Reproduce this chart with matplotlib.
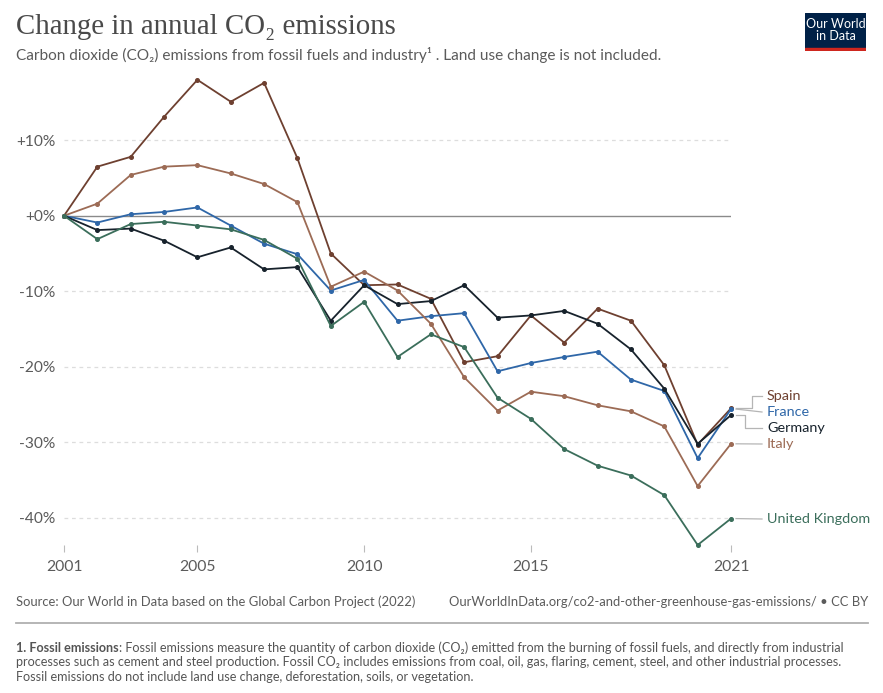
import matplotlib
matplotlib.use("Agg")
import matplotlib.pyplot as plt
from matplotlib.lines import Line2D

years = list(range(2001, 2022))
spain = [0, 6.5, 7.8, 13.1, 18.0, 15.1, 17.6, 7.6, -5.0, -9.2, -9.1, -11.0, -19.4, -18.6, -13.2, -16.8, -12.3, -13.9, -19.8, -30.3, -25.5]
france = [0, -0.9, 0.2, 0.5, 1.1, -1.3, -3.7, -5.1, -9.9, -8.5, -13.9, -13.3, -12.9, -20.6, -19.5, -18.7, -18.0, -21.7, -23.2, -32.1, -25.6]
germany = [0, -1.9, -1.7, -3.3, -5.5, -4.2, -7.1, -6.8, -13.9, -9.2, -11.7, -11.3, -9.2, -13.5, -13.2, -12.6, -14.3, -17.7, -22.9, -30.2, -26.4]
italy = [0, 1.6, 5.4, 6.5, 6.7, 5.6, 4.2, 1.8, -9.4, -7.4, -9.9, -14.3, -21.4, -25.8, -23.3, -23.9, -25.1, -25.9, -27.9, -35.8, -30.2]
uk = [0, -3.1, -1.1, -0.8, -1.3, -1.8, -3.2, -5.7, -14.6, -11.4, -18.7, -15.7, -17.4, -24.1, -26.9, -30.9, -33.1, -34.4, -37.0, -43.6, -40.1]

countries = ["Spain", "France", "Germany", "Italy", "United Kingdom"]
series = [spain, france, germany, italy, uk]
colors = ["#6e4030", "#2f67a8", "#17222c", "#9c6b55", "#3b6e5b"]
label_y_px = [396, 412, 428, 444, 519]

xticks = [2001, 2005, 2010, 2015, 2021]
yticks = [10, 0, -10, -20, -30, -40]
ytick_labels = ["+10%", "+0%", "-10%", "-20%", "-30%", "-40%"]

W, H = 883, 693
plt.rcParams['font.family'] = ['Lato', 'DejaVu Sans']
fig = plt.figure(figsize=(W / 100, H / 100), dpi=100)

def fx(px):
    return px / W

def fy(py):
    return 1 - py / H

ax = fig.add_axes([fx(64), fy(545), fx(731) - fx(64), fy(70) - fy(545)])
ymin, ymax = -43.6, 19.3
ax.set_xlim(2001, 2021)
ax.set_ylim(ymin, ymax)
for s in ax.spines.values():
    s.set_visible(False)

for t in yticks:
    if t == 0:
        ax.axhline(0, color="#8a8a8a", lw=1.0, zorder=1)
    else:
        ax.axhline(t, color="#dddddd", lw=0.9, ls=(0, (3, 3)), zorder=0)
ax.set_yticks(yticks)
ax.set_yticklabels(ytick_labels, fontsize=11.2, color="#5b5b5b")
ax.tick_params(axis="y", length=0, pad=6)
ax.set_xticks(xticks)
ax.set_xticklabels([str(x) for x in xticks], fontsize=11.3, color="#5b5b5b")
ax.tick_params(axis="x", length=5, width=0.8, color="#bbbbbb", pad=6, direction="out")

for vals, c in zip(series, colors):
    ax.plot(years, vals, color=c, lw=1.3, marker="o", ms=2.6, clip_on=False, zorder=3)

# labels with connectors
for name, vals, c, ly in zip(countries, series, colors, label_y_px):
    end_disp = ax.transData.transform((years[-1], vals[-1]))
    ex = end_disp[0]
    ey_px = H - end_disp[1]
    fig.text(fx(767), fy(ly), name, color=c, fontsize=10.4, va="center", ha="left")
    x0 = ex + 5
    x2 = 762
    if abs(ey_px - ly) < 3:
        xs = [x0, x2]
        ys = [ey_px, ly]
    else:
        xm = 752 if ly < ey_px else 745
        xs = [x0, xm, xm, x2]
        ys = [ey_px, ey_px, ly, ly]
    fig.add_artist(Line2D([fx(v) for v in xs], [fy(v) for v in ys], color="#b5b5b5", lw=0.9))

# title & subtitle
fig.text(fx(16), fy(27), "Change in annual CO₂ emissions", family=["Liberation Serif", "DejaVu Serif"],
         fontsize=20.8, color="#4a4a4a", va="center", ha="left")
fig.text(fx(16), fy(55), "Carbon dioxide (CO₂) emissions from fossil fuels and industry¹ . Land use change is not included.",
         fontsize=11.1, color="#5b5b5b", va="center", ha="left")

# logo
logo = fig.add_axes([fx(805), fy(51), fx(866) - fx(805), fy(13) - fy(51)])
logo.set_xlim(0, 1)
logo.set_ylim(0, 1)
logo.axis("off")
logo.add_patch(plt.Rectangle((0, 0.09), 1, 0.91, color="#002147"))
logo.add_patch(plt.Rectangle((0, 0), 1, 0.09, color="#ce261e"))
logo.text(0.5, 0.55, "Our World\nin Data", color="white", fontsize=9, ha="center", va="center", linespacing=1.0)

# source line
fig.text(fx(16), fy(602), "Source: Our World in Data based on the Global Carbon Project (2022)",
         fontsize=9.4, color="#5b5b5b", va="center", ha="left")
fig.text(fx(868), fy(602), "OurWorldInData.org/co2-and-other-greenhouse-gas-emissions/ • CC BY",
         fontsize=9.4, color="#5b5b5b", va="center", ha="right")
fig.add_artist(Line2D([fx(16), fx(868)], [fy(623), fy(623)], color="#b0b0b0", lw=1.3))

# footnote
renderer = fig.canvas.get_renderer()
b = fig.text(fx(16), fy(648), "1. Fossil emissions", fontsize=9.1, color="#555555", weight="bold", va="center", ha="left")
bb = b.get_window_extent(renderer)
fig.text(bb.x1 / W, fy(648), ": Fossil emissions measure the quantity of carbon dioxide (CO₂) emitted from the burning of fossil fuels, and directly from industrial",
         fontsize=9.1, color="#555555", va="center", ha="left")
fig.text(fx(16), fy(662), "processes such as cement and steel production. Fossil CO₂ includes emissions from coal, oil, gas, flaring, cement, steel, and other industrial processes.",
         fontsize=9.1, color="#555555", va="center", ha="left")
fig.text(fx(16), fy(677), "Fossil emissions do not include land use change, deforestation, soils, or vegetation.",
         fontsize=9.1, color="#555555", va="center", ha="left")

fig.savefig("out.png", dpi=100)
